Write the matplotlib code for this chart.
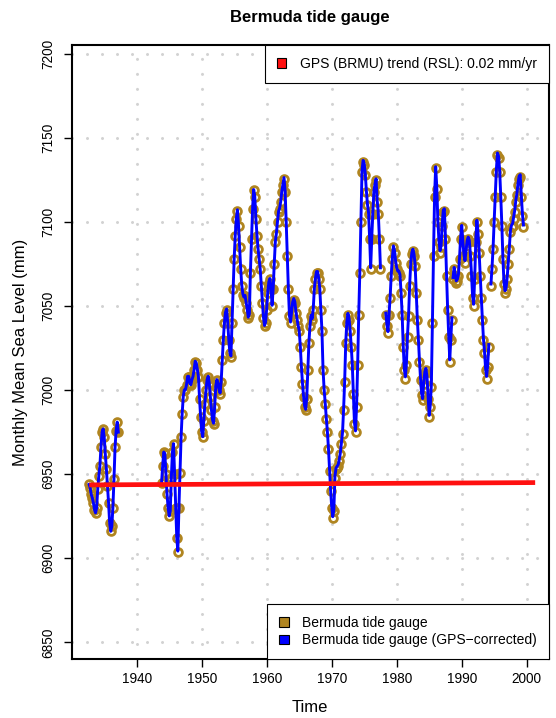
import numpy as np
import matplotlib.pyplot as plt
from matplotlib.patches import Patch

plt.rcParams['font.family'] = ['Liberation Sans', 'DejaVu Sans']

# Bermuda monthly mean sea level (mm), every 2 months
seg1_start = 1932.67
seg1_msl = [6944, 6942,
            6938, 6936, 6933, 6929, 6927, 6930,
            6941, 6949, 6955, 6966, 6975, 6977,
            6972, 6962, 6953, 6943, 6933, 6921,
            6916, 6919, 6930, 6947, 6966, 6976,
            6981, 6975]

seg2_start = 1943.83
seg2_msl = [6945,
            6955, 6963, 6962, 6950, 6938, 6930,
            6925, 6928, 6948, 6963, 6968, 6950,
            6930, 6912, 6904, 6930, 6951, 6972,
            6986, 6996, 7000, 7000, 7003, 7008,
            7008, 7004, 7003, 7006, 7008, 7012,
            7017, 7016, 7012, 7008, 6995, 6984,
            6975, 6972, 6982, 6992, 7000, 7006,
            7008, 7004, 6996, 6988, 6982, 6980,
            6990, 7002, 7006, 7004, 7000, 6998,
            7005, 7018, 7030, 7040, 7046, 7048,
            7040, 7030, 7022, 7020, 7040, 7060,
            7078, 7092, 7102, 7107, 7098, 7085,
            7072, 7062, 7057, 7055, 7056, 7052,
            7048, 7043, 7045, 7070, 7090, 7108,
            7119, 7115, 7102, 7092, 7084, 7078,
            7072, 7062, 7052, 7043, 7038, 7040,
            7048, 7058, 7064, 7066, 7060, 7050,
            7060, 7075, 7088, 7093, 7100, 7106,
            7108, 7112, 7118, 7122, 7126, 7118,
            7100, 7080, 7060, 7044, 7040, 7046,
            7052, 7054, 7052, 7046, 7042, 7038,
            7035, 7026, 7014, 7004, 6996, 6990,
            6988, 6995, 7012, 7028, 7038, 7044,
            7042, 7048, 7060, 7066, 7070, 7070,
            7066, 7060, 7048, 7035, 7012, 7000,
            6992, 6983, 6975, 6965, 6952, 6940,
            6930, 6924, 6928, 6948, 6953, 6954,
            6955, 6958, 6962, 6968, 6974, 6988,
            7005, 7028, 7040, 7045, 7042, 7035,
            7026, 7015, 6998, 6980, 6975, 6990,
            7015, 7045, 7070, 7100, 7130, 7136,
            7134, 7128, 7118, 7110, 7105, 7090,
            7072, 7090, 7105, 7118, 7122, 7125,
            7112, 7105, 7090, 7072]

seg3_start = 1978.33
seg3_msl = [7045, 7038, 7034, 7045,
            7055, 7068, 7078, 7085, 7082, 7076,
            7072, 7070, 7070, 7068, 7058, 7045,
            7026, 7012, 7007, 7015, 7032, 7044,
            7062, 7075, 7081, 7083, 7080, 7074,
            7058, 7042, 7030, 7017, 7006, 6997,
            6994, 7004, 7010, 7012, 7007, 6995,
            6984, 6990, 7002, 7040, 7080, 7115,
            7132, 7120, 7100, 7088, 7082, 7085,
            7098, 7106, 7107, 7090, 7068, 7048,
            7032, 7017, 7030, 7042]

seg4_start = 1988.67
seg4_msl = [7066, 7072,
            7068, 7064, 7065, 7068, 7078, 7090,
            7097, 7088, 7080, 7076, 7082, 7088,
            7090, 7088, 7080, 7068, 7055, 7050,
            7066, 7088, 7100, 7093, 7082, 7068,
            7055, 7042, 7030, 7022, 7012, 7007,
            7014, 7026]

seg5_start = 1994.5
seg5_msl = [7062, 7072, 7084,
            7100, 7115, 7130, 7140, 7138, 7130,
            7115, 7098, 7078, 7063, 7058, 7060,
            7066, 7075, 7084, 7094, 7097, 7098,
            7102, 7106, 7112, 7116, 7122, 7126,
            7127, 7115, 7104, 7097]

segments = [(seg1_start, seg1_msl), (seg2_start, seg2_msl), (seg3_start, seg3_msl),
            (seg4_start, seg4_msl), (seg5_start, seg5_msl)]

# GPS (BRMU) trend
gps_rate = 0.02          # mm/yr
trend_years = [1932.7, 2001.3]
trend_level = 6943.7     # mm at first trend year

brown = '#B08520'

fig = plt.figure(figsize=(5.56, 7.18), dpi=100)
W, H = 556, 718
ax = fig.add_axes([71.7 / W, 1 - 659.3 / H, (549 - 71.7) / W, (659.3 - 45) / H])

for start, vals in segments:
    t = start + np.arange(len(vals)) / 6.0
    v = np.array(vals, dtype=float)
    ax.plot(t, v, linestyle='none', marker='o', ms=5.6, mfc='none', mec=brown, mew=2.0, zorder=3)
    # GPS-corrected series
    v_corr = v + gps_rate * (t - trend_years[0])
    ax.plot(t, v_corr, color='blue', lw=2.1, zorder=4)

ty = np.array(trend_years)
ax.plot(ty, trend_level + gps_rate * (ty - ty[0]), color='#FF1010', lw=3.4,
        solid_capstyle='butt', zorder=5)

ax.set_xlim(1930, 2003.43)
ax.set_ylim(6839.9, 7205.5)
ax.set_xticks(np.arange(1940, 2001, 10))
ax.set_yticks(np.arange(6850, 7201, 50))
ax.grid(True, color='#d2d2d2', linestyle=(0, (0.01, 4.9)), linewidth=2.2,
        dash_capstyle='round')
ax.set_axisbelow(True)

ax.tick_params(axis='both', direction='out', length=5.5, width=1, labelsize=9.8)
ax.tick_params(axis='x', pad=4)
ax.tick_params(axis='y', pad=6)
for lab in ax.get_yticklabels():
    lab.set_rotation(90)
    lab.set_va('center')
for sp in ax.spines.values():
    sp.set_linewidth(1.5)

fig.text(310 / W, 1 - 17.5 / H, 'Bermuda tide gauge', ha='center', va='center',
         fontsize=12, fontweight='bold')
fig.text(310 / W, 1 - 707 / H, 'Time', ha='center', va='center', fontsize=12)
fig.text(21 / W, 1 - 352 / H, 'Monthly Mean Sea Level (mm)', ha='center', va='center',
         rotation=90, fontsize=12)

leg_kw = dict(fontsize=10, frameon=True, fancybox=False, edgecolor='black',
              framealpha=1, borderaxespad=0, handlelength=0.7, handleheight=0.7,
              handletextpad=1.0, borderpad=0.85, labelspacing=0.25)
top_leg = ax.legend(handles=[Patch(facecolor='#FF1010', edgecolor='black', lw=0.8)],
                    labels=['GPS (BRMU) trend (RSL): 0.02 mm/yr'],
                    loc='upper right', **leg_kw)
top_leg.get_frame().set_linewidth(0.8)
ax.add_artist(top_leg)
bot_leg = ax.legend(handles=[Patch(facecolor=brown, edgecolor='black', lw=0.8),
                             Patch(facecolor='blue', edgecolor='black', lw=0.8)],
                    labels=['Bermuda tide gauge', 'Bermuda tide gauge (GPS\u2212corrected)'],
                    loc='lower right', **leg_kw)
bot_leg.get_frame().set_linewidth(0.8)

fig.savefig('out.png', dpi=100)
